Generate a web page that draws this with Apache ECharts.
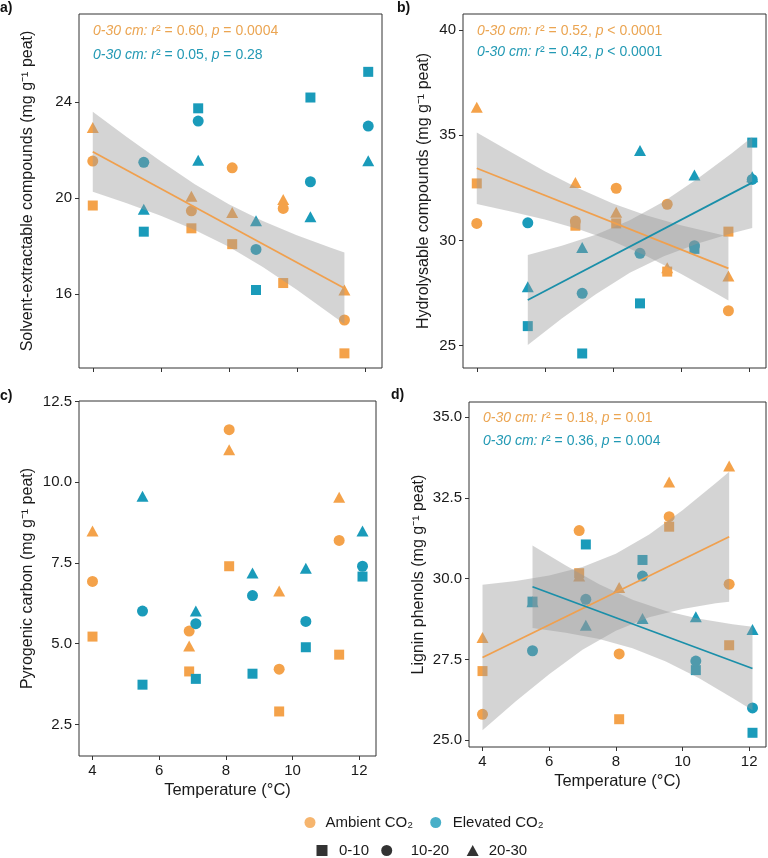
<!DOCTYPE html>
<html><head><meta charset="utf-8">
<script src="https://cdn.jsdelivr.net/npm/echarts@6/dist/echarts.min.js"></script>
<style>html,body{margin:0;padding:0;background:#fff}#chart{width:768px;height:858px}</style>
</head><body><div id="chart"></div>
<script>
// ---------- data ----------
const tempAmbient  = [4.0, 6.9, 8.1, 9.6, 11.4];
const tempElevated = [5.5, 7.1, 8.8, 10.4, 12.1];
const xTicks = [4, 6, 8, 10, 12];

// a) Solvent-extractable compounds
const solventAmb_0_10   = [19.69, 18.74, 18.08, 16.46, 13.53];
const solventAmb_10_20  = [21.54, 19.47, 21.26, 19.57, 14.92];
const solventAmb_20_30  = [22.94, 20.08, 19.40, 19.94, 16.17];
const solventElev_0_10  = [18.60, 23.74, 16.17, 24.19, 25.26];
const solventElev_10_20 = [21.49, 23.21, 17.86, 20.68, 23.00];
const solventElev_20_30 = [19.53, 21.58, 19.06, 19.22, 21.56];
const solventTicks = [16, 20, 24];
const solventFitAmbX = [4.0, 11.4];
const solventFitAmbY = [21.93, 16.24];
const solventBandAmbX  = [4, 5, 6, 7, 8, 9, 10, 11, 11.4];
const solventBandAmbLo = [20.26, 19.78, 19.26, 18.67, 17.97, 17.13, 16.18, 15.16, 14.75];
const solventBandAmbHi = [23.60, 22.54, 21.53, 20.58, 19.74, 19.04, 18.45, 17.93, 17.73];

// b) Hydrolysable compounds
const hydroAmb_0_10   = [32.71, 30.70, 30.81, 28.52, 30.42];
const hydroAmb_10_20  = [30.81, 30.92, 32.48, 31.72, 26.66];
const hydroAmb_20_30  = [36.33, 32.75, 31.34, 28.70, 28.31];
const hydroElev_0_10  = [25.93, 24.63, 27.01, 29.60, 34.65];
const hydroElev_10_20 = [30.84, 27.49, 29.39, 29.75, 32.90];
const hydroElev_20_30 = [27.80, 29.67, 34.27, 33.11, 33.03];
const hydroTicks = [25, 30, 35, 40];
const hydroFitAmbX = [4.0, 11.4];
const hydroFitAmbY = [33.43, 28.67];
const hydroFitElevX = [5.5, 12.1];
const hydroFitElevY = [27.17, 32.75];
const hydroBandAmbX  = [4, 5, 6, 7, 8, 9, 10, 11, 11.4];
const hydroBandAmbLo = [31.73, 31.38, 30.99, 30.53, 29.96, 29.25, 28.42, 27.52, 27.15];
const hydroBandAmbHi = [35.13, 34.20, 33.29, 32.47, 31.76, 31.19, 30.72, 30.34, 30.19];
const hydroBandElevX  = [5.5, 6.5, 7.5, 8.5, 9.5, 10.5, 11.5, 12.1];
const hydroBandElevLo = [25.03, 26.29, 27.45, 28.46, 29.25, 29.86, 30.34, 30.59];
const hydroBandElevHi = [29.31, 29.75, 30.27, 30.96, 31.85, 32.94, 34.14, 34.91];

// c) Pyrogenic carbon
const pyroAmb_0_10   = [5.22, 4.14, 7.40, 2.90, 4.66];
const pyroAmb_10_20  = [6.93, 5.39, 11.63, 4.21, 8.20];
const pyroAmb_20_30  = [8.49, 4.93, 11.01, 6.63, 9.54];
const pyroElev_0_10  = [3.73, 3.91, 4.07, 4.89, 7.08];
const pyroElev_10_20 = [6.01, 5.62, 6.49, 5.69, 7.40];
const pyroElev_20_30 = [9.57, 6.01, 7.19, 7.34, 8.49];
const pyroTicks = [2.5, 5.0, 7.5, 10.0, 12.5];

// d) Lignin phenols
const ligninAmb_0_10   = [27.14, 30.17, 25.65, 31.61, 27.94];
const ligninAmb_10_20  = [25.80, 31.49, 27.67, 31.92, 29.83];
const ligninAmb_20_30  = [28.18, 30.08, 29.73, 32.99, 33.49];
const ligninElev_0_10  = [29.29, 31.06, 30.58, 27.17, 25.23];
const ligninElev_10_20 = [27.77, 29.36, 30.08, 27.45, 26.00];
const ligninElev_20_30 = [29.29, 28.56, 28.77, 28.82, 28.43];
const ligninTicks = [25.0, 27.5, 30.0, 32.5, 35.0];
const ligninFitAmbX = [4.0, 11.4];
const ligninFitAmbY = [27.56, 31.30];
const ligninFitElevX = [5.5, 12.1];
const ligninFitElevY = [29.75, 27.22];
const ligninBandAmbX  = [4, 5, 6, 7, 8, 9, 10, 11, 11.4];
const ligninBandAmbLo = [25.31, 26.21, 27.04, 27.80, 28.39, 28.81, 29.06, 29.24, 29.29];
const ligninBandAmbHi = [29.81, 29.93, 30.10, 30.36, 30.77, 31.37, 32.12, 32.96, 33.31];
const ligninBandElevX  = [5.5, 6.5, 7.5, 8.5, 9.5, 10.5, 11.5, 12.1];
const ligninBandElevLo = [28.47, 28.33, 28.13, 27.85, 27.44, 26.92, 26.31, 25.93];
const ligninBandElevHi = [31.03, 30.41, 29.83, 29.35, 29.00, 28.76, 28.59, 28.51];

// ---------- styling ----------
const FONT = '"Liberation Sans", Arial, Helvetica, sans-serif';
const ORANGE = '#F4A24A', TEAL = '#1A9BBA';
const ORANGE_LINE = '#F0A04E', TEAL_LINE = '#1A8FA9';
const ORANGE_TXT = '#EBA552', TEAL_TXT = '#2299B4';
const BAND = 'rgba(153,153,153,0.42)';
const INK = '#1a1a1a';
const XMIN = 3.595, XMAX = 12.505;

const depthStyles = [
  { name: '0-10',  symbol: 'rect',     size: 10 },
  { name: '10-20', symbol: 'circle',   size: 11 },
  { name: '20-30', symbol: 'triangle', size: [12, 11] }
];

const panels = [
  { label: 'a)', labelPos: [0, 1], grid: { left: 79, top: 14, width: 303, height: 354 },
    yMin: 12.92, yMax: 27.67, yTicks: solventTicks, dec: 0, nameGap: 43, showX: false,
    yName: 'Solvent-extractable compounds (mg g⁻¹ peat)',
    amb: [solventAmb_0_10, solventAmb_10_20, solventAmb_20_30],
    elev: [solventElev_0_10, solventElev_10_20, solventElev_20_30],
    fits: [{ x: solventFitAmbX, y: solventFitAmbY, color: ORANGE_LINE }],
    bands: [{ x: solventBandAmbX, lo: solventBandAmbLo, hi: solventBandAmbHi }],
    ann: { left: 93, tops: [23, 47], lines: [['0.60', '0.0004', ORANGE_TXT], ['0.05', '0.28', TEAL_TXT]], op: ['=', '='] } },
  { label: 'b)', labelPos: [397, 1], grid: { left: 463, top: 14, width: 303, height: 354 },
    yMin: 23.94, yMax: 40.76, yTicks: hydroTicks, dec: 0, nameGap: 31, showX: false,
    yName: 'Hydrolysable compounds (mg g⁻¹ peat)',
    amb: [hydroAmb_0_10, hydroAmb_10_20, hydroAmb_20_30],
    elev: [hydroElev_0_10, hydroElev_10_20, hydroElev_20_30],
    fits: [{ x: hydroFitAmbX, y: hydroFitAmbY, color: ORANGE_LINE }, { x: hydroFitElevX, y: hydroFitElevY, color: TEAL_LINE }],
    bands: [{ x: hydroBandAmbX, lo: hydroBandAmbLo, hi: hydroBandAmbHi }, { x: hydroBandElevX, lo: hydroBandElevLo, hi: hydroBandElevHi }],
    ann: { left: 477, tops: [23, 44], lines: [['0.52', '0.0001', ORANGE_TXT], ['0.42', '0.0001', TEAL_TXT]], op: ['<', '<'] } },
  { label: 'c)', labelPos: [0, 389], grid: { left: 79, top: 401, width: 297, height: 355 },
    yMin: 1.52, yMax: 12.52, yTicks: pyroTicks, dec: 1, nameGap: 43, showX: true,
    yName: 'Pyrogenic carbon (mg g⁻¹ peat)',
    amb: [pyroAmb_0_10, pyroAmb_10_20, pyroAmb_20_30],
    elev: [pyroElev_0_10, pyroElev_10_20, pyroElev_20_30],
    fits: [], bands: [], ann: null },
  { label: 'd)', labelPos: [391, 388], grid: { left: 469, top: 402, width: 297, height: 345 },
    yMin: 24.79, yMax: 35.47, yTicks: ligninTicks, dec: 1, nameGap: 42, showX: true,
    yName: 'Lignin phenols (mg g⁻¹ peat)',
    amb: [ligninAmb_0_10, ligninAmb_10_20, ligninAmb_20_30],
    elev: [ligninElev_0_10, ligninElev_10_20, ligninElev_20_30],
    fits: [{ x: ligninFitAmbX, y: ligninFitAmbY, color: ORANGE_LINE }, { x: ligninFitElevX, y: ligninFitElevY, color: TEAL_LINE }],
    bands: [{ x: ligninBandAmbX, lo: ligninBandAmbLo, hi: ligninBandAmbHi }, { x: ligninBandElevX, lo: ligninBandElevLo, hi: ligninBandElevHi }],
    ann: { left: 483, tops: [410, 433], lines: [['0.18', '0.01', ORANGE_TXT], ['0.36', '0.004', TEAL_TXT]], op: ['=', '='] } }
];

const grids = [], xAxes = [], yAxes = [], series = [], titles = [];

panels.forEach((p, i) => {
  grids.push(Object.assign({ show: true, borderColor: '#333', borderWidth: 1, backgroundColor: '#fff', containLabel: false, outerBoundsMode: 'none' }, p.grid));
  xAxes.push({
    gridIndex: i, type: 'value', min: XMIN, max: XMAX,
    axisLine: { show: false }, splitLine: { show: false },
    axisTick: { show: true, length: 4, lineStyle: { color: '#333', width: 1 }, customValues: xTicks },
    axisLabel: { show: p.showX, customValues: xTicks, color: INK, fontSize: 15, fontFamily: FONT, margin: 7 },
    name: p.showX ? 'Temperature (°C)' : '', nameLocation: 'middle', nameGap: 26,
    nameTextStyle: { color: INK, fontSize: 16.5, fontFamily: FONT }
  });
  yAxes.push({
    gridIndex: i, type: 'value', min: p.yMin, max: p.yMax,
    axisLine: { show: false }, splitLine: { show: false },
    axisTick: { show: true, length: 4, lineStyle: { color: '#333', width: 1 }, customValues: p.yTicks },
    axisLabel: { show: true, customValues: p.yTicks, color: INK, fontSize: 15, fontFamily: FONT, margin: 7,
      formatter: v => Number(v).toFixed(p.dec) },
    name: p.yName, nameLocation: 'middle', nameGap: p.nameGap,
    nameTextStyle: { color: INK, fontSize: 16, fontFamily: FONT }
  });

  // points
  [[p.amb, tempAmbient, ORANGE, 'Ambient'], [p.elev, tempElevated, TEAL, 'Elevated']].forEach(([sets, temps, color, tName]) => {
    sets.forEach((vals, d) => {
      const ds = depthStyles[d];
      series.push({
        type: 'scatter', name: p.label + ' ' + tName + ' ' + ds.name, xAxisIndex: i, yAxisIndex: i,
        symbol: ds.symbol, symbolSize: ds.size, silent: true, z: 2,
        itemStyle: { color: color, opacity: 1 },
        data: temps.map((x, k) => [x, vals[k]])
      });
    });
  });

  // confidence bands
  p.bands.forEach(b => {
    const rows = b.x.map((x, k) => [x, b.lo[k], b.hi[k]]);
    series.push({
      type: 'custom', xAxisIndex: i, yAxisIndex: i, silent: true, z: 3, clip: false,
      data: rows, encode: { x: 0, y: [1, 2] },
      renderItem: (params, api) => {
        if (params.dataIndex !== 0) return null;
        const pts = [];
        rows.forEach(r => pts.push(api.coord([r[0], r[2]])));
        rows.slice().reverse().forEach(r => pts.push(api.coord([r[0], r[1]])));
        return { type: 'polygon', shape: { points: pts }, style: { fill: BAND, stroke: null } };
      }
    });
  });

  // fit lines
  p.fits.forEach(f => {
    series.push({
      type: 'line', xAxisIndex: i, yAxisIndex: i, silent: true, z: 4, symbol: 'none',
      lineStyle: { color: f.color, width: 1.8 },
      data: f.x.map((x, k) => [x, f.y[k]])
    });
  });

  // panel label
  titles.push({ text: p.label, left: p.labelPos[0], top: p.labelPos[1], padding: 0,
    textStyle: { fontFamily: FONT, fontSize: 14, fontWeight: 'bold', color: '#111' } });

  // annotations
  if (p.ann) {
    p.ann.lines.forEach((ln, j) => {
      const c = ln[2];
      titles.push({
        left: p.ann.left, top: p.ann.tops[j], padding: 0,
        text: '{i|0-30 cm: r}{n|² = ' + ln[0] + ', }{i|p}{n| ' + p.ann.op[j] + ' ' + ln[1] + '}',
        textStyle: {
          fontFamily: FONT, fontSize: 14, fontWeight: 'normal', color: c,
          rich: {
            i: { fontFamily: FONT, fontSize: 14, fontStyle: 'italic', color: c, lineHeight: 16 },
            n: { fontFamily: FONT, fontSize: 14, fontStyle: 'normal', color: c, lineHeight: 16 }
          }
        }
      });
    });
  }
});

// legend-only series
const legendSeries = [
  { name: 'Ambient CO₂', symbol: 'circle', color: ORANGE },
  { name: 'Elevated CO₂', symbol: 'circle', color: TEAL },
  { name: '0-10', symbol: 'rect', color: '#000' },
  { name: '10-20', symbol: 'circle', color: '#000' },
  { name: '20-30', symbol: 'triangle', color: '#000' }
];
legendSeries.forEach(l => series.push({ type: 'scatter', name: l.name, symbol: l.symbol, xAxisIndex: 0, yAxisIndex: 0, itemStyle: { color: l.color }, data: [] }));

const legendPos = [
  { left: 304.5, top: 815, pad: 5 },
  { left: 430.2, top: 815, pad: 6.5 },
  { left: 316.5, top: 843, pad: 6.5 },
  { left: 381.2, top: 843, pad: 13.5 },
  { left: 466.7, top: 843, pad: 5 }
];
const legends = legendSeries.map((l, k) => ({
  data: [{ name: l.name, icon: l.symbol, itemStyle: { color: l.color } }],
  left: legendPos[k].left, top: legendPos[k].top, padding: 0, selectedMode: false,
  itemWidth: l.symbol === 'triangle' ? 12 : 11, itemHeight: 11,
  textStyle: { fontFamily: FONT, fontSize: 15, color: INK, padding: [0, 0, 0, legendPos[k].pad] }
}));

const chart = echarts.init(document.getElementById('chart'), null, { renderer: 'canvas' });
chart.setOption({
  backgroundColor: '#fff',
  animation: false,
  title: titles,
  legend: legends,
  grid: grids,
  xAxis: xAxes,
  yAxis: yAxes,
  series: series
});
</script></body></html>
